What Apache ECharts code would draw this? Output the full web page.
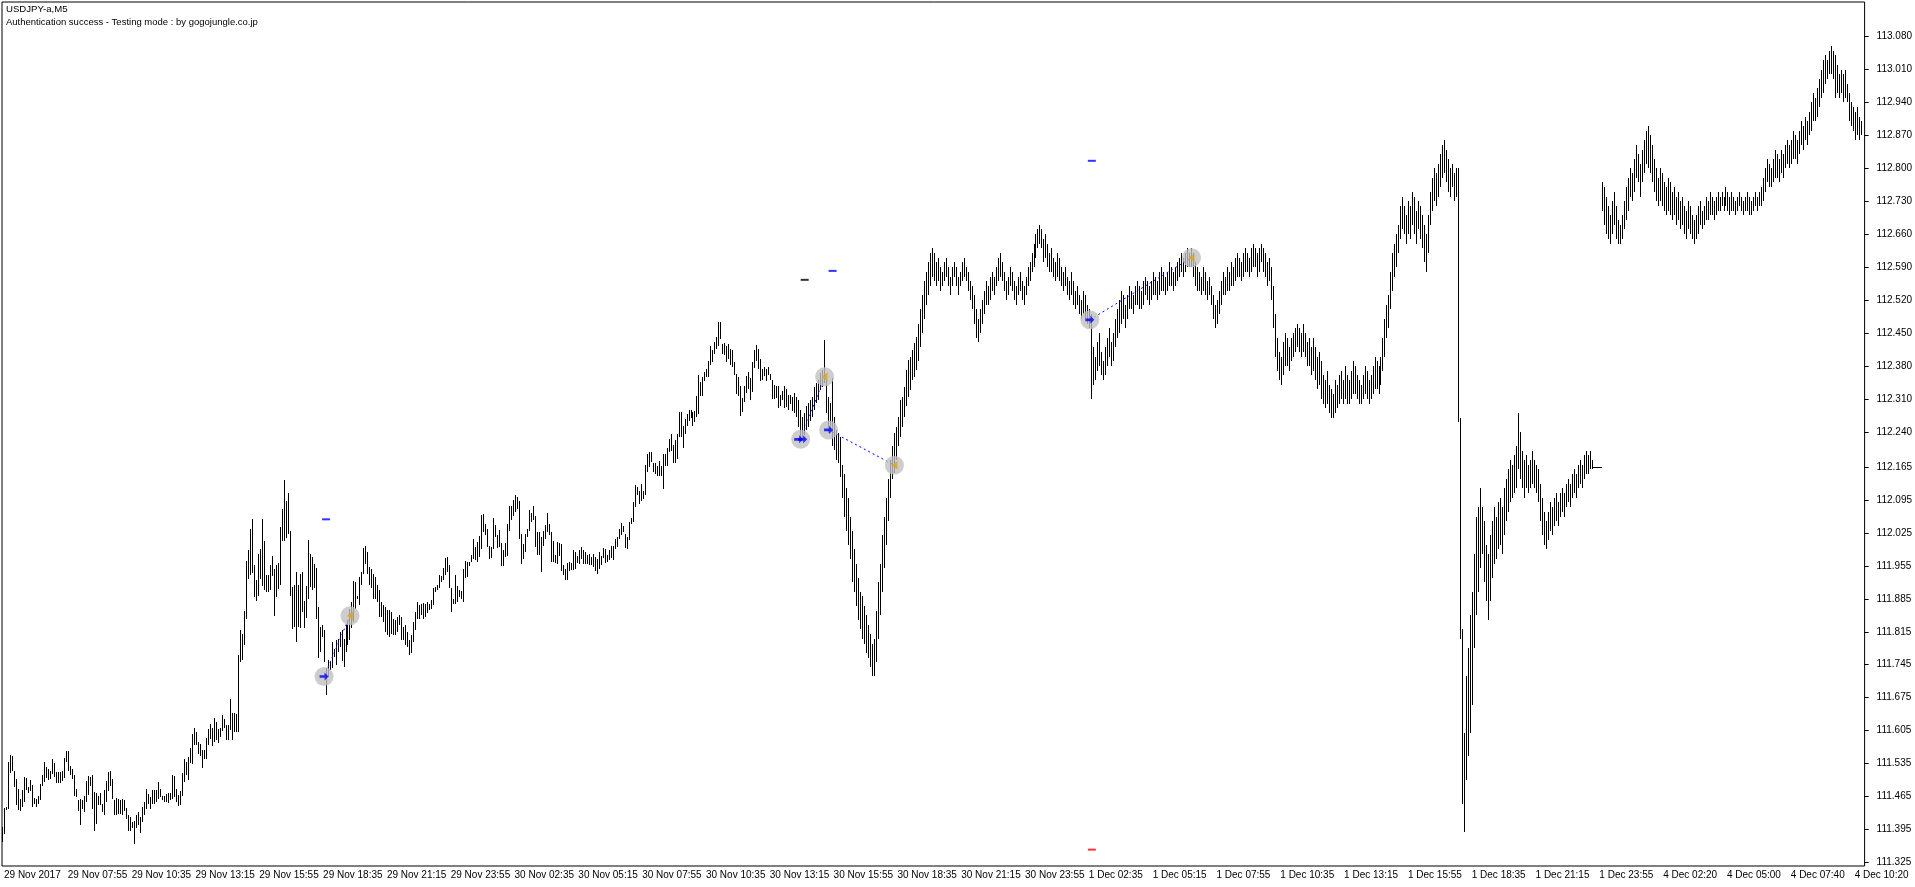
<!DOCTYPE html>
<html>
<head>
<meta charset="utf-8">
<title>USDJPY-a,M5</title>
<script src="https://cdn.jsdelivr.net/npm/echarts@6/dist/echarts.min.js"></script>
<style>
  html, body { margin: 0; padding: 0; background: #fff; }
  #chart { width: 1915px; height: 887px; }
</style>
</head>
<body>
<div id="chart"></div>
<script>
// y axis tick labels (price scale on the right)
const yTickLabels = ['113.080', '113.010', '112.940', '112.870', '112.800', '112.730', '112.660', '112.590',
  '112.520', '112.450', '112.380', '112.310', '112.240', '112.165', '112.095', '112.025', '111.955',
  '111.885', '111.815', '111.745', '111.675', '111.605', '111.535', '111.465', '111.395', '111.325']

// time labels, one every 32 bars (M5)
const xTickLabels = ['29 Nov 2017', '29 Nov 07:55', '29 Nov 10:35', '29 Nov 13:15', '29 Nov 15:55',
  '29 Nov 18:35', '29 Nov 21:15', '29 Nov 23:55', '30 Nov 02:35', '30 Nov 05:15', '30 Nov 07:55',
  '30 Nov 10:35', '30 Nov 13:15', '30 Nov 15:55', '30 Nov 18:35', '30 Nov 21:15', '30 Nov 23:55',
  '1 Dec 02:35', '1 Dec 05:15', '1 Dec 07:55', '1 Dec 10:35', '1 Dec 13:15', '1 Dec 15:55',
  '1 Dec 18:35', '1 Dec 21:15', '1 Dec 23:55', '4 Dec 02:20', '4 Dec 05:00', '4 Dec 07:40', '4 Dec 10:20']
const barsPerLabel = 32
const barCount = 934

// bar highs / lows, one per M5 bar
const barHigh = [
  111.400,111.440,111.442,111.538,111.554,111.551,111.520,111.503,111.480,111.460,
  111.478,111.506,111.504,111.485,111.499,111.490,111.462,111.460,111.465,111.492,
  111.510,111.538,111.527,111.524,111.520,111.545,111.537,111.518,111.518,111.518,
  111.520,111.546,111.561,111.561,111.529,111.524,111.511,111.481,111.457,111.459,
  111.457,111.466,111.497,111.508,111.507,111.511,111.474,111.473,111.467,111.473,
  111.449,111.479,111.497,111.517,111.520,111.503,111.457,111.461,111.460,111.457,
  111.460,111.457,111.440,111.425,111.421,111.411,111.412,111.425,111.432,111.421,
  111.442,111.453,111.481,111.471,111.464,111.478,111.478,111.478,111.495,111.481,
  111.467,111.466,111.471,111.473,111.473,111.511,111.508,111.480,111.469,111.476,
  111.515,111.545,111.539,111.549,111.568,111.598,111.610,111.602,111.580,111.577,
  111.563,111.563,111.589,111.609,111.619,111.610,111.631,111.624,111.609,111.610,
  111.639,111.629,111.616,111.616,111.672,111.643,111.643,111.641,111.765,111.818,
  111.811,111.860,111.966,111.988,112.034,112.055,111.956,111.926,111.980,111.991,
  112.055,112.007,111.936,111.936,111.957,111.976,111.949,111.957,111.961,112.037,
  112.077,112.138,112.094,112.110,112.030,111.910,111.915,111.942,111.915,111.938,
  111.943,111.881,111.913,112.011,111.980,111.973,111.959,111.950,111.867,111.825,
  111.829,111.818,111.737,111.754,111.752,111.793,111.779,111.797,111.800,111.815,
  111.818,111.800,111.829,111.839,111.864,111.878,111.922,111.921,111.892,111.931,
  111.942,111.992,111.997,111.984,111.953,111.949,111.938,111.931,111.914,111.903,
  111.878,111.871,111.868,111.861,111.861,111.857,111.843,111.839,111.846,111.850,
  111.846,111.825,111.829,111.815,111.797,111.809,111.836,111.856,111.878,111.871,
  111.875,111.877,111.875,111.878,111.875,111.882,111.907,111.910,111.914,111.935,
  111.934,111.951,111.972,111.974,111.956,111.908,111.885,111.936,111.912,111.903,
  111.901,111.949,111.965,111.963,111.963,111.979,112.013,111.995,112.006,112.018,
  112.064,112.066,112.044,112.034,111.998,111.995,112.057,112.042,112.020,112.032,
  112.004,111.988,112.004,112.044,112.083,112.083,112.096,112.105,112.101,112.094,
  112.023,112.002,112.023,112.034,112.073,112.068,112.083,112.062,112.027,112.027,
  112.016,112.030,112.042,112.068,112.044,112.028,112.009,111.979,112.006,112.004,
  112.002,111.957,111.949,111.962,111.964,111.962,111.988,111.984,111.977,111.988,
  111.995,111.988,111.984,111.979,111.981,111.974,111.981,111.974,111.969,111.984,
  111.977,111.993,111.990,111.979,111.988,111.998,111.998,112.013,112.016,112.034,
  112.047,112.040,112.023,112.016,112.049,112.057,112.090,112.126,112.122,112.115,
  112.130,112.115,112.170,112.193,112.198,112.198,112.174,112.174,112.168,112.177,
  112.168,112.193,112.193,112.205,112.225,112.236,112.211,112.222,112.236,112.282,
  112.282,112.252,112.268,112.278,112.287,112.287,112.283,112.285,112.317,112.360,
  112.345,112.356,112.368,112.374,112.391,112.423,112.413,112.430,112.441,112.473,
  112.473,112.427,112.429,112.423,112.427,112.415,112.413,112.389,112.363,112.356,
  112.338,112.312,112.338,112.358,112.368,112.354,112.388,112.413,112.425,112.416,
  112.394,112.374,112.377,112.374,112.377,112.363,112.351,112.340,112.338,112.338,
  112.319,112.326,112.338,112.331,112.319,112.319,112.314,112.322,112.315,112.308,
  112.287,112.272,112.279,112.294,112.301,112.308,112.315,112.336,112.343,112.350,
  112.364,112.372,112.435,112.350,112.315,112.301,112.354,112.272,112.244,112.237,
  112.230,112.170,112.150,112.120,112.100,112.060,112.030,111.990,111.960,111.930,
  111.900,111.890,111.870,111.850,111.830,111.810,111.790,111.800,111.860,111.920,
  111.960,112.020,112.060,112.100,112.140,112.180,112.210,112.237,112.251,112.272,
  112.308,112.315,112.336,112.372,112.393,112.400,112.414,112.428,112.442,112.470,
  112.500,112.530,112.560,112.580,112.600,112.620,112.630,112.620,112.600,112.610,
  112.590,112.580,112.600,112.610,112.590,112.570,112.590,112.600,112.590,112.570,
  112.580,112.600,112.610,112.590,112.580,112.560,112.550,112.530,112.500,112.480,
  112.500,112.520,112.540,112.560,112.550,112.570,112.580,112.570,112.590,112.610,
  112.620,112.600,112.580,112.560,112.570,112.590,112.580,112.560,112.550,112.570,
  112.580,112.560,112.550,112.570,112.590,112.600,112.620,112.640,112.660,112.670,
  112.680,112.670,112.650,112.660,112.640,112.620,112.630,112.610,112.600,112.620,
  112.610,112.590,112.580,112.590,112.570,112.560,112.580,112.560,112.540,112.550,
  112.530,112.520,112.540,112.530,112.510,112.500,112.490,112.420,112.400,112.430,
  112.450,112.410,112.390,112.420,112.440,112.460,112.430,112.450,112.480,112.500,
  112.520,112.540,112.530,112.510,112.530,112.550,112.540,112.530,112.550,112.560,
  112.550,112.540,112.560,112.570,112.560,112.550,112.560,112.580,112.570,112.560,
  112.580,112.590,112.580,112.570,112.580,112.600,112.590,112.580,112.590,112.600,
  112.610,112.620,112.610,112.620,112.630,112.620,112.630,112.620,112.600,112.590,
  112.580,112.570,112.590,112.580,112.560,112.570,112.550,112.530,112.510,112.520,
  112.540,112.560,112.580,112.570,112.590,112.580,112.600,112.590,112.610,112.620,
  112.610,112.600,112.620,112.630,112.620,112.610,112.630,112.640,112.630,112.620,
  112.630,112.640,112.630,112.620,112.600,112.610,112.590,112.550,112.490,112.440,
  112.410,112.400,112.430,112.450,112.440,112.420,112.440,112.450,112.460,112.470,
  112.460,112.450,112.470,112.450,112.430,112.440,112.420,112.440,112.420,112.400,
  112.410,112.390,112.360,112.350,112.370,112.340,112.330,112.320,112.350,112.340,
  112.360,112.370,112.350,112.380,112.360,112.350,112.370,112.390,112.380,112.360,
  112.350,112.340,112.360,112.380,112.370,112.350,112.360,112.380,112.400,112.390,
  112.380,112.400,112.440,112.480,112.510,112.530,112.580,112.620,112.640,112.660,
  112.680,112.720,112.740,112.720,112.700,112.730,112.720,112.750,112.740,112.710,
  112.730,112.720,112.700,112.680,112.660,112.700,112.750,112.780,112.800,112.790,
  112.810,112.830,112.850,112.860,112.840,112.820,112.800,112.810,112.790,112.800,
  112.800,112.270,111.820,111.600,111.720,111.780,111.850,111.900,111.980,112.060,
  112.080,112.120,112.080,112.050,112.000,111.980,112.020,112.050,112.080,112.060,
  112.090,112.100,112.080,112.120,112.140,112.160,112.180,112.170,112.190,112.210,
  112.280,112.240,112.200,112.180,112.190,112.170,112.180,112.200,112.180,112.170,
  112.160,112.130,112.100,112.070,112.050,112.070,112.090,112.080,112.100,112.110,
  112.090,112.110,112.120,112.110,112.130,112.140,112.130,112.150,112.160,112.150,
  112.170,112.180,112.170,112.190,112.200,112.190,112.200,112.180,112.165,112.165,
  112.165,112.165,112.770,112.760,112.740,112.720,112.700,112.730,112.750,112.720,
  112.690,112.680,112.700,112.730,112.760,112.780,112.800,112.790,112.820,112.850,
  112.830,112.810,112.840,112.860,112.880,112.890,112.870,112.850,112.820,112.800,
  112.780,112.800,112.790,112.770,112.760,112.780,112.770,112.750,112.760,112.740,
  112.750,112.730,112.740,112.720,112.710,112.730,112.720,112.700,112.690,112.700,
  112.720,112.730,112.710,112.720,112.740,112.730,112.750,112.740,112.730,112.740,
  112.750,112.740,112.750,112.740,112.760,112.750,112.740,112.750,112.740,112.730,
  112.740,112.750,112.740,112.730,112.740,112.750,112.740,112.730,112.740,112.750,
  112.740,112.750,112.760,112.780,112.800,112.820,112.810,112.800,112.820,112.840,
  112.830,112.820,112.840,112.830,112.850,112.860,112.850,112.860,112.880,112.870,
  112.860,112.880,112.900,112.890,112.910,112.900,112.920,112.940,112.960,112.950,
  112.970,112.990,113.010,113.030,113.040,113.030,113.050,113.060,113.050,113.040,
  113.020,113.000,113.010,113.000,113.010,112.980,112.960,112.940,112.930,112.920,
  112.930,112.910,112.900
]
const barLow = [
  111.369,111.386,111.437,111.439,111.515,111.520,111.485,111.446,111.437,111.435,
  111.442,111.453,111.478,111.473,111.476,111.442,111.449,111.442,111.449,111.457,
  111.488,111.495,111.504,111.501,111.503,111.513,111.506,111.494,111.494,111.494,
  111.497,111.504,111.538,111.520,111.510,111.503,111.467,111.464,111.435,111.405,
  111.439,111.432,111.454,111.469,111.488,111.439,111.391,111.407,111.446,111.447,
  111.432,111.425,111.454,111.476,111.488,111.460,111.426,111.425,111.428,111.428,
  111.425,111.435,111.418,111.391,111.391,111.398,111.365,111.398,111.405,111.388,
  111.411,111.425,111.439,111.449,111.439,111.449,111.449,111.453,111.460,111.464,
  111.457,111.453,111.453,111.451,111.457,111.460,111.464,111.453,111.445,111.446,
  111.466,111.496,111.510,111.501,111.537,111.534,111.575,111.575,111.556,111.552,
  111.525,111.544,111.544,111.575,111.588,111.572,111.580,111.584,111.579,111.591,
  111.605,111.610,111.584,111.586,111.607,111.586,111.602,111.602,111.602,111.750,
  111.754,111.786,111.842,111.927,111.936,111.940,111.888,111.881,111.892,111.927,
  111.913,111.903,111.899,111.900,111.903,111.934,111.848,111.888,111.905,111.915,
  112.009,112.007,112.014,112.023,111.891,111.821,111.825,111.794,111.825,111.823,
  111.857,111.823,111.844,111.885,111.910,111.903,111.908,111.842,111.759,111.772,
  111.804,111.751,111.680,111.719,111.733,111.737,111.762,111.744,111.772,111.783,
  111.752,111.740,111.772,111.786,111.797,111.822,111.836,111.864,111.885,111.871,
  111.914,111.938,111.960,111.938,111.914,111.907,111.885,111.885,111.878,111.846,
  111.846,111.836,111.815,111.808,111.804,111.811,111.808,111.808,111.815,111.829,
  111.797,111.797,111.786,111.783,111.765,111.769,111.793,111.818,111.843,111.843,
  111.850,111.843,111.846,111.854,111.861,111.863,111.871,111.900,111.903,111.907,
  111.921,111.924,111.935,111.941,111.907,111.857,111.875,111.875,111.878,111.889,
  111.885,111.878,111.929,111.931,111.955,111.963,111.970,111.967,111.963,111.974,
  111.991,112.027,112.020,111.995,111.969,111.972,111.991,112.016,111.993,111.995,
  111.955,111.955,111.974,111.977,112.030,112.052,112.062,112.069,112.076,112.013,
  111.960,111.969,111.984,112.016,112.030,112.048,112.052,111.995,111.979,111.979,
  111.942,111.998,112.013,112.027,112.020,111.964,111.963,111.962,111.960,111.976,
  111.945,111.936,111.924,111.924,111.945,111.947,111.947,111.949,111.962,111.960,
  111.969,111.960,111.960,111.960,111.956,111.957,111.952,111.945,111.938,111.949,
  111.956,111.972,111.962,111.964,111.967,111.972,111.967,111.991,111.995,112.013,
  112.020,112.028,111.993,111.990,112.011,112.044,112.049,112.080,112.105,112.087,
  112.094,112.098,112.105,112.154,112.165,112.176,112.154,112.151,112.147,112.147,
  112.146,112.118,112.168,112.168,112.198,112.200,112.174,112.174,112.183,112.229,
  112.229,112.205,112.236,112.252,112.264,112.269,112.253,112.261,112.271,112.278,
  112.317,112.317,112.347,112.356,112.356,112.381,112.388,112.406,112.416,112.423,
  112.438,112.406,112.404,112.388,112.394,112.381,112.377,112.361,112.321,112.317,
  112.273,112.282,112.303,112.323,112.330,112.307,112.324,112.375,112.391,112.374,
  112.349,112.351,112.358,112.349,112.361,112.351,112.310,112.310,112.312,112.290,
  112.294,112.307,112.290,112.292,112.287,112.299,112.285,112.279,112.272,112.251,
  112.224,112.226,112.233,112.244,112.251,112.262,112.272,112.287,112.301,112.308,
  112.329,112.336,112.343,112.279,112.237,112.244,112.209,112.202,112.180,112.173,
  112.145,112.100,112.060,112.030,112.000,111.970,111.920,111.900,111.870,111.840,
  111.820,111.800,111.790,111.770,111.760,111.740,111.720,111.720,111.750,111.800,
  111.850,111.900,111.950,112.000,112.050,112.100,112.140,112.152,112.180,112.209,
  112.230,112.251,112.272,112.294,112.315,112.329,112.350,112.357,112.372,112.390,
  112.420,112.450,112.480,112.510,112.530,112.550,112.570,112.560,112.550,112.560,
  112.540,112.550,112.560,112.570,112.550,112.530,112.550,112.570,112.550,112.530,
  112.550,112.560,112.570,112.560,112.540,112.520,112.500,112.470,112.440,112.430,
  112.450,112.470,112.490,112.510,112.510,112.520,112.540,112.530,112.550,112.560,
  112.570,112.560,112.540,112.520,112.530,112.550,112.540,112.520,112.510,112.530,
  112.540,112.520,112.510,112.530,112.550,112.560,112.580,112.590,112.610,112.630,
  112.640,112.630,112.600,112.610,112.590,112.580,112.580,112.570,112.560,112.570,
  112.560,112.550,112.540,112.550,112.530,112.520,112.530,112.510,112.500,112.510,
  112.490,112.480,112.490,112.480,112.470,112.460,112.310,112.340,112.350,112.370,
  112.380,112.360,112.350,112.360,112.380,112.400,112.380,112.390,112.420,112.440,
  112.450,112.470,112.480,112.460,112.480,112.500,112.500,112.490,112.510,112.510,
  112.500,112.500,112.510,112.530,112.520,112.510,112.520,112.530,112.530,112.520,
  112.530,112.540,112.540,112.530,112.540,112.550,112.550,112.540,112.550,112.560,
  112.570,112.580,112.570,112.580,112.590,112.590,112.590,112.570,112.550,112.540,
  112.540,112.530,112.540,112.530,112.520,112.530,112.510,112.480,112.460,112.470,
  112.490,112.510,112.530,112.530,112.540,112.540,112.550,112.550,112.560,112.570,
  112.570,112.560,112.570,112.580,112.580,112.570,112.580,112.590,112.590,112.570,
  112.580,112.600,112.580,112.570,112.550,112.560,112.520,112.460,112.400,112.370,
  112.350,112.340,112.360,112.380,112.380,112.370,112.390,112.400,112.410,112.420,
  112.410,112.400,112.410,112.400,112.380,112.380,112.360,112.370,112.350,112.330,
  112.340,112.310,112.300,112.290,112.300,112.280,112.270,112.270,112.280,112.290,
  112.300,112.310,112.300,112.310,112.300,112.300,112.310,112.320,112.320,112.310,
  112.300,112.300,112.310,112.320,112.310,112.300,112.310,112.320,112.330,112.330,
  112.320,112.340,112.370,112.400,112.440,112.460,112.500,112.540,112.570,112.590,
  112.620,112.650,112.670,112.660,112.640,112.660,112.650,112.680,112.660,112.640,
  112.670,112.650,112.630,112.600,112.580,112.620,112.680,112.710,112.730,112.720,
  112.740,112.760,112.780,112.790,112.770,112.750,112.740,112.760,112.730,112.740,
  112.260,111.800,111.450,111.390,111.500,111.550,111.600,111.660,111.780,111.850,
  111.900,111.950,111.980,111.920,111.880,111.840,111.880,111.930,111.960,111.970,
  111.990,112.000,111.980,112.020,112.050,112.070,112.090,112.100,112.110,112.120,
  112.160,112.140,112.120,112.100,112.120,112.110,112.120,112.130,112.120,112.110,
  112.090,112.050,112.020,112.000,111.990,112.010,112.030,112.020,112.040,112.050,
  112.040,112.060,112.070,112.060,112.080,112.090,112.080,112.100,112.110,112.100,
  112.120,112.130,112.120,112.140,112.150,112.150,112.160,112.160,112.165,112.165,
  112.165,112.165,112.710,112.680,112.660,112.650,112.640,112.660,112.680,112.650,
  112.640,112.640,112.650,112.670,112.690,112.710,112.740,112.730,112.750,112.780,
  112.770,112.740,112.770,112.790,112.810,112.800,112.790,112.770,112.750,112.730,
  112.720,112.730,112.720,112.710,112.700,112.710,112.700,112.690,112.700,112.680,
  112.690,112.670,112.680,112.660,112.650,112.670,112.660,112.650,112.640,112.650,
  112.660,112.680,112.670,112.680,112.690,112.690,112.700,112.700,112.690,112.700,
  112.710,112.710,112.720,112.710,112.720,112.710,112.700,112.710,112.710,112.700,
  112.710,112.720,112.710,112.700,112.710,112.710,112.700,112.700,112.710,112.720,
  112.710,112.720,112.720,112.730,112.750,112.770,112.760,112.760,112.770,112.780,
  112.780,112.770,112.790,112.780,112.800,112.810,112.800,112.810,112.820,112.820,
  112.810,112.830,112.850,112.840,112.860,112.850,112.870,112.880,112.900,112.900,
  112.910,112.930,112.950,112.960,112.980,112.990,113.000,113.000,112.990,112.950,
  112.960,112.950,112.960,112.940,112.950,112.940,112.900,112.890,112.880,112.860,
  112.870,112.860,112.870
]

// trades: [bar, price]
const tradeOpen = [[161, 111.720], [400, 112.224], [414, 112.244], [545, 112.478]]
const tradeClose = [[174, 111.849], [412, 112.357], [447, 112.169], [596, 112.610]]
const buyArrows = [[161, 111.720], [399, 112.224], [401, 112.224], [414, 112.244], [545, 112.478]]
const levelBlue = [[162, 112.054], [416, 112.582], [546, 112.816]]
const levelBlack = [[402, 112.563]]
const levelRed = [[546, 111.352]]

const categories = Array.from({ length: barCount }, (_, i) => String(i))
const bars = barHigh.map((h, i) => [i, h, barLow[i]])
const yTicks = yTickLabels.map(Number)
const font = 'Liberation Sans, Arial, sans-serif'

const chart = echarts.init(document.getElementById('chart'))

// one thin vertical line per bar (high-low), flat bars drawn as a short dash
function renderBar(params, api) {
  const top = api.coord([api.value(0), api.value(1)])
  const bot = api.coord([api.value(0), api.value(2)])
  const x = Math.floor(top[0])
  const y1 = Math.round(top[1])
  const h = Math.round(bot[1]) - y1
  return {
    type: 'rect',
    shape: { x: h < 1 ? x - 1 : x, y: y1, width: h < 1 ? 3 : 1, height: Math.max(1, h) },
    style: { fill: '#000' }
  }
}

const tradeLines = tradeOpen.map((o, i) => ({
  type: 'line',
  data: [o, tradeClose[i]],
  symbol: 'none',
  silent: true,
  lineStyle: { color: '#0000ff', width: 1, type: [2, 3] },
  z: 3
}))

chart.setOption({
  animation: false,
  backgroundColor: '#fff',
  grid: { left: 2, right: 45, top: 2, bottom: 21, show: true, borderColor: '#000', borderWidth: 1 },
  graphic: [
    { type: 'text', left: 6, top: 4, style: { text: 'USDJPY-a,M5', font: '9.6px ' + font, fill: '#000' } },
    { type: 'text', left: 6, top: 17, style: { text: 'Authentication success - Testing mode : by gogojungle.co.jp', font: '9.5px ' + font, fill: '#000' } }
  ],
  xAxis: {
    type: 'category',
    data: categories,
    boundaryGap: true,
    axisLine: { show: false },
    axisTick: {
      alignWithLabel: true,
      interval: (i) => i % barsPerLabel === 0,
      length: 4,
      lineStyle: { color: '#000' }
    },
    axisLabel: {
      interval: (i) => i % barsPerLabel === 0,
      formatter: (v, i) => xTickLabels[i / barsPerLabel] || '',
      align: 'left',
      margin: 4,
      padding: [0, 0, 0, 1],
      color: '#000',
      fontFamily: font,
      fontSize: 10
    },
    splitLine: { show: false }
  },
  yAxis: {
    type: 'value',
    position: 'right',
    min: 111.3172,
    max: 113.1535,
    axisLine: { show: false },
    axisTick: { show: true, length: 4, customValues: yTicks, lineStyle: { color: '#000' } },
    axisLabel: {
      customValues: yTicks,
      formatter: (v) => v.toFixed(3),
      margin: 12,
      color: '#000',
      fontFamily: font,
      fontSize: 10
    },
    splitLine: { show: false }
  },
  series: [
    {
      type: 'custom',
      data: bars,
      renderItem: renderBar,
      encode: { x: 0, y: [1, 2] },
      silent: true,
      z: 2
    },
    ...tradeLines,
    {
      type: 'scatter',
      data: tradeOpen.concat(tradeClose),
      symbol: 'circle',
      symbolSize: 19,
      itemStyle: { color: '#c0c0c0' },
      silent: true,
      z: 4
    },
    {
      type: 'scatter',
      data: buyArrows,
      symbol: 'path://M0,3 L5,3 L5,0 L9,4.5 L5,9 L5,6 L0,6 Z',
      symbolSize: [9, 8],
      itemStyle: { color: '#0000ff' },
      silent: true,
      z: 5
    },
    {
      type: 'scatter',
      data: tradeClose,
      symbol: 'path://M6,0 L6,10 L0,5 Z',
      symbolSize: [6, 9],
      itemStyle: { color: '#daa520' },
      silent: true,
      z: 5
    },
    {
      type: 'scatter', data: levelBlue, symbol: 'rect', symbolSize: [8, 2],
      itemStyle: { color: '#0000ff' }, silent: true, z: 5
    },
    {
      type: 'scatter', data: levelBlack, symbol: 'rect', symbolSize: [8, 2],
      itemStyle: { color: '#000' }, silent: true, z: 5
    },
    {
      type: 'scatter', data: levelRed, symbol: 'rect', symbolSize: [8, 2],
      itemStyle: { color: '#ff0000' }, silent: true, z: 5
    }
  ]
})
</script>
</body>
</html>
